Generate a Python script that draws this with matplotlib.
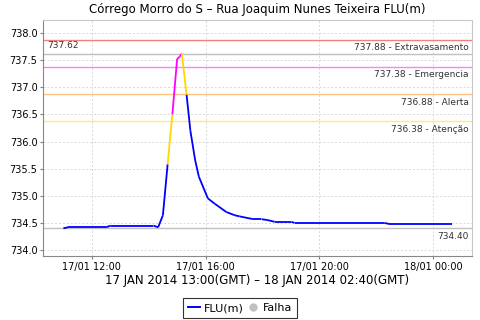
import numpy as np
import pandas as pd
import matplotlib
matplotlib.use('Agg')
import matplotlib.pyplot as plt
import matplotlib.dates as mdates
from matplotlib.lines import Line2D

title = 'Córrego Morro do S – Rua Joaquim Nunes Teixeira FLU(m)'
period = '17 JAN 2014 13:00(GMT) – 18 JAN 2014 02:40(GMT)'

times = ['2014-01-17 11:00', '2014-01-17 11:10', '2014-01-17 12:30', '2014-01-17 12:40',
         '2014-01-17 14:10', '2014-01-17 14:20', '2014-01-17 14:30', '2014-01-17 14:40',
         '2014-01-17 14:50', '2014-01-17 15:00', '2014-01-17 15:05', '2014-01-17 15:10',
         '2014-01-17 15:20', '2014-01-17 15:28', '2014-01-17 15:38', '2014-01-17 15:46',
         '2014-01-17 16:05', '2014-01-17 16:20', '2014-01-17 16:44', '2014-01-17 17:02',
         '2014-01-17 17:12', '2014-01-17 17:40', '2014-01-17 17:58', '2014-01-17 18:12',
         '2014-01-17 18:26', '2014-01-17 19:01', '2014-01-17 19:08', '2014-01-17 22:17',
         '2014-01-17 22:28', '2014-01-18 00:40']
levels = [734.40, 734.42, 734.42, 734.45,
          734.45, 734.42, 734.64, 735.58,
          736.50, 737.52, 737.56, 737.62,
          736.86, 736.20, 735.66, 735.35,
          734.95, 734.85, 734.70, 734.64,
          734.62, 734.57, 734.57, 734.55,
          734.52, 734.52, 734.50, 734.50,
          734.48, 734.48]

limit_values = [737.88, 737.38, 736.88, 736.38]
limit_names = ['Extravasamento', 'Emergencia', 'Alerta', 'Atenção']
limit_colors = ['#f08080', '#ff80ff', '#ffc080', '#ffee66']

t = pd.to_datetime(times)
x = mdates.date2num(t)

fig = plt.figure(figsize=(4.8, 3.2), dpi=100)
ax = fig.add_axes([0.0896, 0.2, 0.8934, 0.7375])

# segments coloured by the level reached at the end of each step
def seg_color(v):
    if v >= limit_values[1]:
        return '#ff00ff'
    if v >= limit_values[2]:
        return '#ffa500'
    if v >= limit_values[3]:
        return '#ffd800'
    return '#0000ff'

for i in range(1, len(x)):
    ax.plot(x[i-1:i+1], levels[i-1:i+1], color=seg_color(levels[i]), lw=1.3,
            solid_capstyle='butt', zorder=3)

xmin = mdates.date2num(pd.Timestamp('2014-01-17 10:17'))
xmax = mdates.date2num(pd.Timestamp('2014-01-18 01:22'))
ax.set_xlim(xmin, xmax)
ax.set_ylim(733.89, 738.24)

for val, name, col in zip(limit_values, limit_names, limit_colors):
    ax.axhline(val, color=col, lw=1, zorder=2)
    ax.text(0.993, val - 0.07, '%.2f - %s' % (val, name), transform=ax.get_yaxis_transform(),
            ha='right', va='top', fontsize=6.5, color='#333333')

vmax = max(levels)
vmin = min(levels)
ax.axhline(vmax, color='#c0c0c0', lw=1, zorder=2)
ax.text(0.01, vmax + 0.07, '%.2f' % vmax, transform=ax.get_yaxis_transform(),
        ha='left', va='bottom', fontsize=6.5, color='#333333')
ax.axhline(vmin, color='#c0c0c0', lw=1, zorder=2)
ax.text(0.993, vmin - 0.07, '%.2f' % vmin, transform=ax.get_yaxis_transform(),
        ha='right', va='top', fontsize=6.5, color='#333333')

ax.set_yticks(np.arange(734.0, 738.01, 0.5))
ax.yaxis.set_major_formatter(plt.FormatStrFormatter('%.1f'))
ax.xaxis.set_major_locator(mdates.HourLocator(byhour=[0, 4, 8, 12, 16, 20]))
ax.xaxis.set_major_formatter(mdates.DateFormatter('%d/%m %H:%M'))
ax.tick_params(labelsize=7, length=2, color='#808080', pad=2)
ax.grid(True, color='#d8d8d8', ls=(0, (2, 2)), lw=0.7)
for s in ax.spines.values():
    s.set_color('#888888')
ax.spines['top'].set_color('#c8c8c8')
ax.spines['right'].set_color('#c8c8c8')

ax.set_title(title, fontsize=8.5, pad=5)
ax.set_xlabel(period, fontsize=8.5, labelpad=2)

handles = [Line2D([], [], color='#0000ff', lw=1.4),
           Line2D([], [], color='#c0c0c0', marker='o', ls='none', ms=5)]
leg = fig.legend(handles, ['FLU(m)', 'Falha'], loc='lower center', bbox_to_anchor=(0.5, 0.0),
                 ncol=2, fontsize=8, frameon=True, fancybox=False, handlelength=1.1,
                 handletextpad=0.3, columnspacing=0.3, borderpad=0.45, borderaxespad=0.15)
leg.get_frame().set_edgecolor('black')
leg.get_frame().set_linewidth(0.8)

fig.savefig('out.png', dpi=100)
